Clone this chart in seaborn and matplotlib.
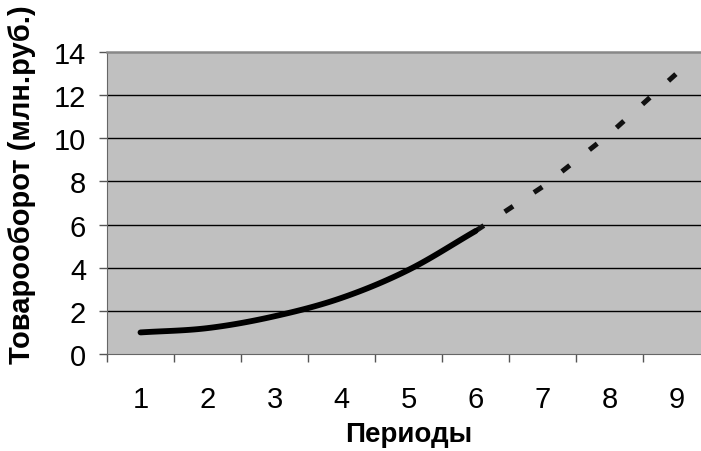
import matplotlib
matplotlib.use('Agg')
import matplotlib.pyplot as plt
import numpy as np
import pandas as pd
import seaborn as sns

# фактические значения (сглаженная линия) и тренд с прогнозом
periods = [1, 2, 3, 4, 5, 6]
turnover = [1.0, 1.2, 1.75, 2.6, 3.9, 5.7]
trend_periods = [6, 7, 8, 9]
trend_values = [5.7, 7.75, 10.2, 13.0]
xlabels = ['1', '2', '3', '4', '5', '6', '7', '8', '9']
yticks = [0, 2, 4, 6, 8, 10, 12, 14]


def smooth(xs, ys, n=20):
    # сглаживание как в Excel (Catmull-Rom)
    xs = np.asarray(xs, float)
    ys = np.asarray(ys, float)
    px = np.r_[2*xs[0]-xs[1], xs, 2*xs[-1]-xs[-2]]
    py = np.r_[2*ys[0]-ys[1], ys, 2*ys[-1]-ys[-2]]
    outx, outy = [], []
    t = np.linspace(0, 1, n, endpoint=False)
    for i in range(1, len(px)-2):
        for p, out in ((px, outx), (py, outy)):
            p0, p1, p2, p3 = p[i-1], p[i], p[i+1], p[i+2]
            out.extend(0.5*((2*p1) + (-p0+p2)*t + (2*p0-5*p1+4*p2-p3)*t**2
                            + (-p0+3*p1-3*p2+p3)*t**3))
    outx.append(xs[-1])
    outy.append(ys[-1])
    return np.array(outx), np.array(outy)


sns.set_style('white')
plt.rcParams['font.family'] = ['Liberation Sans', 'DejaVu Sans']
plt.rcParams['text.color'] = 'black'
plt.rcParams['xtick.color'] = 'black'
plt.rcParams['ytick.color'] = 'black'
plt.rcParams['axes.labelcolor'] = 'black'

fig = plt.figure(figsize=(7.01, 4.52), dpi=100)
ax = fig.add_axes([107/701, 97/452, 603/701, 302/452])
ax.set_facecolor('#c0c0c0')

sx, sy = smooth(periods, turnover)
df = pd.DataFrame({'x': sx, 'y': sy})
df_tr = pd.DataFrame({'x': trend_periods, 'y': trend_values})
sns.lineplot(data=df_tr, x='x', y='y', ax=ax, color='#111111', lw=3.6,
             linestyle=(0, (2.0, 5.0)), zorder=3, sort=False)
sns.lineplot(data=df, x='x', y='y', ax=ax, color='black', lw=4.2,
             solid_capstyle='round', zorder=4, sort=False)

ax.set_xlim(0.5, 9.5)
ax.set_ylim(0, 14)
ax.set_yticks(yticks)
ax.set_yticklabels([str(v) for v in yticks])
ax.set_xticks(np.arange(1, 10))
ax.set_xticklabels(xlabels)
ax.set_xticks(np.arange(0.5, 10, 1), minor=True)
for v in yticks[1:-1]:
    ax.axhline(v, color='black', lw=1.0, zorder=1)

ax.tick_params(axis='x', which='major', length=0, pad=22, labelsize=21)
ax.tick_params(axis='x', which='minor', length=6, width=1, color='#555555', direction='out')
ax.tick_params(axis='y', length=6, width=1, color='#555555', direction='out', pad=9, labelsize=21)
ax.tick_params(bottom=True, left=True, which='both')

ax.spines['left'].set_color('#666666')
ax.spines['bottom'].set_color('#666666')
ax.spines['top'].set_color('#888888')
ax.spines['top'].set_linewidth(1.8)
ax.spines['right'].set_visible(False)

ax.set_xlabel('Периоды', fontsize=20, fontweight='bold', labelpad=6)
ax.set_ylabel('Товарооборот (млн.руб.)', fontsize=21, fontweight='bold')
ax.yaxis.set_label_coords(-0.118, 0.563)

fig.savefig('out.png', dpi=100)
